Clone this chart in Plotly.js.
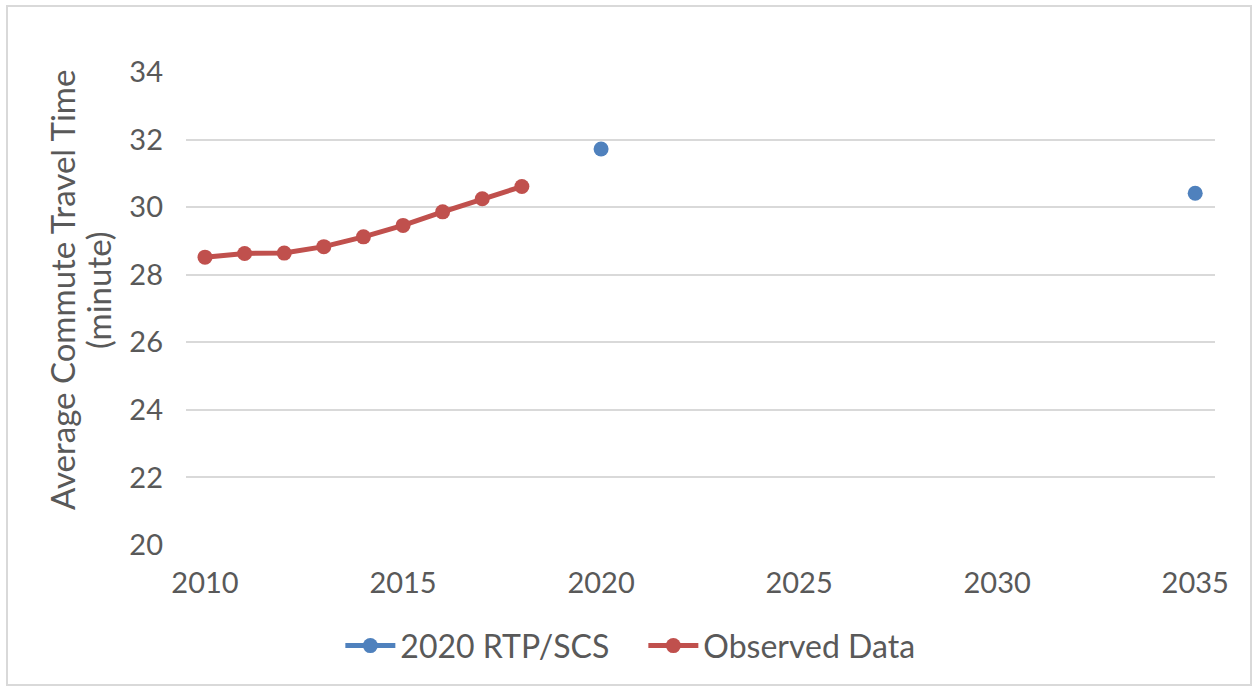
<!DOCTYPE html>
<html>
<head>
<meta charset="utf-8">
<script src="https://cdn.plot.ly/plotly-3.0.1.min.js"></script>
<style>
html,body{margin:0;padding:0;background:#fff;}
#wrap{position:relative;width:1253px;height:687px;}
#chart{position:absolute;left:0;top:0;width:1253px;height:687px;}
#frame{position:absolute;left:6px;top:5px;width:1242px;height:677px;border:2px solid #d9d9d9;pointer-events:none;}
</style>
</head>
<body>
<div id="wrap"><div id="chart"></div><div id="frame"></div></div>
<script>
const rtpYears = [2020, 2035];
const rtpValues = [31.72, 30.41];
const obsYears = [2010, 2011, 2012, 2013, 2014, 2015, 2016, 2017, 2018];
const obsValues = [28.52, 28.63, 28.64, 28.83, 29.12, 29.46, 29.86, 30.25, 30.61];
const xTicks = [2010, 2015, 2020, 2025, 2030, 2035];
const yTicks = [20, 22, 24, 26, 28, 30, 32, 34];
const yTitleLines = ['Average Commute Travel Time', '(minute)'];

const fontFam = 'Lato, "Open Sans", sans-serif';
const txt = '#595959';
const blue = '#4F81BD';
const red = '#C0504D';

const rtpLegend = {x: [null], y: [null], name: '2020 RTP/SCS', mode: 'lines+markers', type: 'scatter',
   line: {color: blue, width: 5}, marker: {color: blue, size: 15}, hoverinfo: 'skip'};
const obsTrace = {x: obsYears, y: obsValues, name: 'Observed Data', mode: 'lines+markers', type: 'scatter',
   line: {color: red, width: 5}, marker: {color: red, size: 15}};
const rtpTrace = {x: rtpYears, y: rtpValues, name: '2020 RTP/SCS', mode: 'markers', type: 'scatter',
   marker: {color: blue, size: 15}, showlegend: false};

const layout = {
  width: 1253, height: 687,
  margin: {l: 186, r: 38, t: 72, b: 142},
  paper_bgcolor: '#ffffff', plot_bgcolor: '#ffffff',
  font: {family: fontFam, color: txt, size: 29},
  showlegend: true,
  legend: {orientation: 'h', x: 0.150, xanchor: 'left', y: -0.155, yanchor: 'top',
           font: {size: 32, color: txt}, itemwidth: 50, traceorder: 'normal',
           entrywidth: 238, entrywidthmode: 'pixels'},
  xaxis: {range: [2009.52, 2035.5], tickvals: xTicks, showgrid: false, zeroline: false,
          showline: false, ticks: '', tickfont: {size: 29, color: txt}, ticklabelstandoff: 18},
  yaxis: {range: [20, 34], tickvals: yTicks, showgrid: true, gridcolor: '#d9d9d9', gridwidth: 2,
          zeroline: false, showline: false, ticks: '', tickfont: {size: 29, color: txt},
          ticklabelstandoff: 22},
  annotations: [
    {text: yTitleLines[0], xref: 'paper', yref: 'paper', x: (62 - 186) / 1029, y: (545 - 290) / 473,
     xanchor: 'center', yanchor: 'middle', textangle: -90, showarrow: false, font: {size: 33, color: txt}},
    {text: yTitleLines[1], xref: 'paper', yref: 'paper', x: (98 - 186) / 1029, y: (545 - 290) / 473,
     xanchor: 'center', yanchor: 'middle', textangle: -90, showarrow: false, font: {size: 33, color: txt}}
  ]
};

Plotly.newPlot('chart', [rtpLegend, obsTrace, rtpTrace], layout, {displayModeBar: false, staticPlot: true});
</script>
</body>
</html>
